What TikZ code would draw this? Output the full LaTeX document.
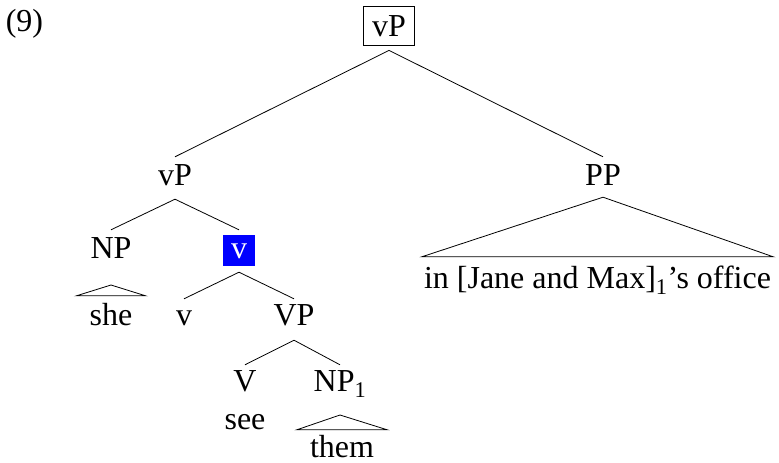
\documentclass[tikz,border=0pt]{standalone}
\usepackage{fontspec}
\setmainfont{Liberation Serif}
\begin{document}
\begin{tikzpicture}[x=1pt,y=-1pt,
  every node/.style={font=\fontsize{32}{38}\selectfont},
  lab/.style={anchor=base,inner sep=0pt,text height=22pt,text depth=0pt},
  br/.style={line width=0.8pt},
]
\useasboundingbox (0,0) rectangle (779,463);
\node[lab] (ex) at (24.5,31) {(9)};
\node[draw,line width=0.8pt,inner sep=0pt,minimum width=51pt,minimum height=39pt,text height=22pt,text depth=0pt] (top) at (389,25.5) {vP};
\node[lab] (vPL) at (175,185) {vP};
\node[lab] (PP) at (603,185) {PP};
\node[lab] (NP) at (111,258) {NP};
\node[fill=blue,text=white,inner sep=0pt,minimum width=32pt,minimum height=31pt,text height=15pt,text depth=0pt] (vbar) at (239,250.5) {v};
\node[lab] (she) at (111,325) {she};
\node[lab] (vh) at (184,325) {v};
\node[lab] (VP) at (294,325) {VP};
\node[lab] (V) at (245,391) {V};
\node[lab] (NPa) at (340,391) {NP\textsubscript{1}};
\node[lab] (see) at (245,429) {see};
\node[lab] (them) at (342,457) {them};
\node[lab] (off) at (597.5,288) {in [Jane and Max]\textsubscript{1}’s office};

\draw[br] ([yshift=6pt]vPL.north) -- ([yshift=-5pt]top.south) -- ([yshift=6pt]PP.north);
\draw[br] ([yshift=6pt]NP.north) -- ([yshift=-14pt]vPL.south) -- ([yshift=5pt]vbar.north);
\draw[br] ([yshift=4pt]vh.north) -- ([yshift=-6pt]vbar.south) -- ([yshift=4pt]VP.north);
\draw[br] ([yshift=4pt]V.north) -- ([yshift=-15pt]VP.south) -- ([yshift=4pt]NPa.north);
\draw[br] ([yshift=-27pt]NP.base) -- ([xshift=-13pt,yshift=7pt]she.north west) -- ([xshift=13pt,yshift=7pt]she.north east) -- cycle;
\draw[br] ([yshift=-24pt]NPa.base) -- ([xshift=-13pt,yshift=5pt]them.north west) -- ([xshift=13pt,yshift=5pt]them.north east) -- cycle;
\draw[br] ([yshift=-12pt]PP.south) -- ([xshift=-2pt,yshift=9pt]off.north west) -- ([xshift=2pt,yshift=9pt]off.north east) -- cycle;
\end{tikzpicture}
\end{document}
